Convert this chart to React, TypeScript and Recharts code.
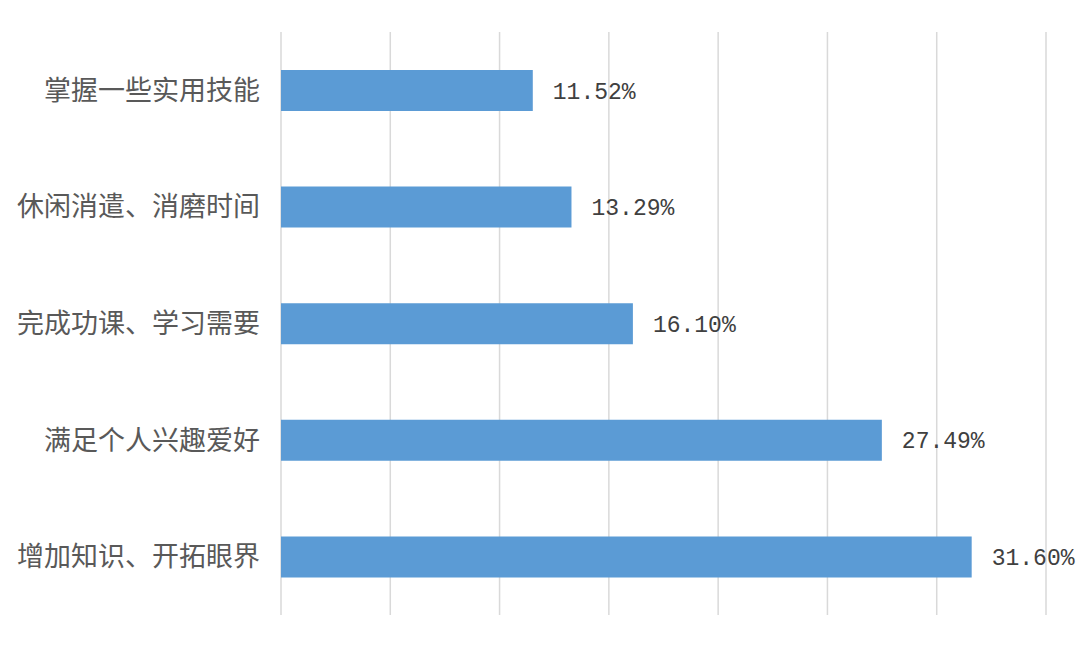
import React from 'react';
import { BarChart, Bar, XAxis, YAxis, CartesianGrid, LabelList } from 'recharts';

const categories = ['掌握一些实用技能', '休闲消遣、消磨时间', '完成功课、学习需要', '满足个人兴趣爱好', '增加知识、开拓眼界'];
const values = [11.52, 13.29, 16.1, 27.49, 31.6];
const xTicks = [0, 5, 10, 15, 20, 25, 30, 35];

const data = categories.map((name, i) => ({ name, value: values[i] }));

const EmptyTick = () => <g />;

export default function App() {
  return (
    <div style={{ position: 'absolute', left: 0, top: 0, width: 1080, height: 646, background: '#fff' }}>
      <BarChart
        width={1080}
        height={646}
        data={data}
        layout="vertical"
        margin={{ top: 32, right: 34, bottom: 30, left: 0 }}
        barCategoryGap={0}
      >
        <CartesianGrid horizontal={false} vertical={true} stroke="#d9d9d9" strokeWidth={1.5} />
        <XAxis
          type="number"
          domain={[0, 35]}
          ticks={xTicks}
          interval={0}
          tick={EmptyTick}
          axisLine={false}
          tickLine={false}
          height={1}
        />
        <YAxis
          type="category"
          dataKey="name"
          width={281}
          axisLine={false}
          tickLine={false}
          tickSize={0}
          tickMargin={21}
          tick={{ fill: '#595959', fontSize: 27, fontFamily: 'Noto Sans CJK SC' }}
        />
        <Bar dataKey="value" fill="#5B9BD5" barSize={41} isAnimationActive={false}>
          <LabelList
            dataKey="value"
            position="right"
            offset={20}
            formatter={(v: number) => v.toFixed(2) + '%'}
            style={{ fill: '#404040', fontSize: 23, fontFamily: 'Liberation Mono' }}
          />
        </Bar>
      </BarChart>
    </div>
  );
}
